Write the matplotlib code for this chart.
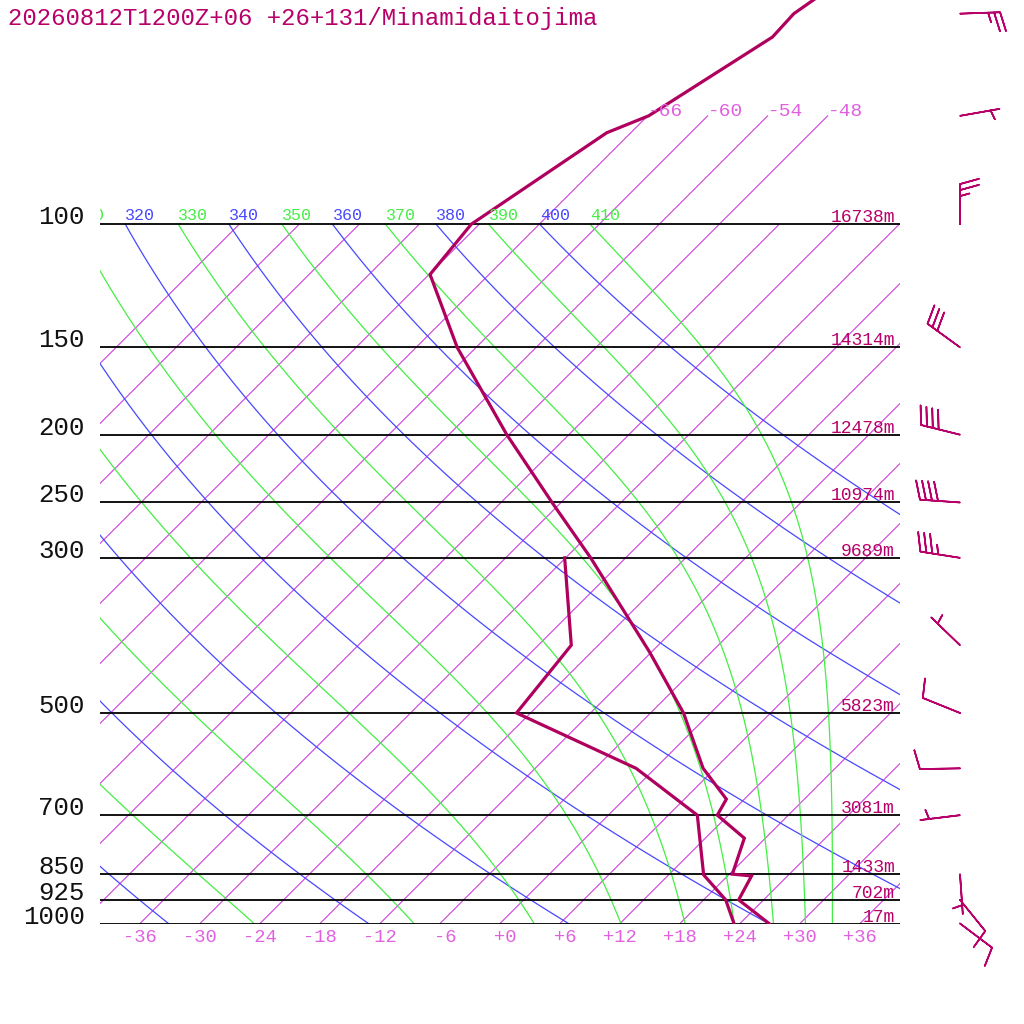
import numpy as np
import matplotlib
matplotlib.use('Agg')
import matplotlib.pyplot as plt
from matplotlib.transforms import Affine2D, blended_transform_factory

# sounding (hPa, degC)
temp_p = [1000, 925, 855, 850, 755, 700, 664, 600, 500, 409, 300, 250, 200,
          150, 118, 100, 74, 70, 54, 50, 40]
temp_t = [26.9, 21.5, 20.4, 18.3, 15.9, 10.9, 10.2, 4.8, -2.7, -12.2, -27.5,
          -36.9, -48.2, -61.9, -71.9, -72.8, -68.4, -65.9, -61.4, -61.6, -58.7]

dew_p = [1000, 925, 852, 700, 600, 500, 400, 300]
dew_t = [23.4, 20.2, 15.5, 8.9, -1.9, -19.4, -20.7, -30.1]

# winds: direction (deg, from) and speed (kt)
wind_p = [1000, 925, 850, 700, 600, 500, 400, 300, 250, 200, 150, 100, 70, 50]
wind_dir = [127, 141, 176, 263, 269, 292, 314, 279, 274, 284, 306, 0, 80, 88]
wind_kt = [10, 10, 5, 5, 10, 10, 5, 35, 40, 40, 30, 25, 5, 25]

levels = [1000, 925, 850, 700, 500, 300, 250, 200, 150, 100]
heights = ['17m', '702m', '1433m', '3081m', '5823m', '9689m', '10974m',
           '12478m', '14314m', '16738m']

temp_ticks = list(range(-36, 37, 6))
isotherms = list(range(-96, 37, 6))
top_isotherms = [-66, -60, -54, -48]
dry_thetas = list(range(240, 401, 20))
moist_thetas = list(range(250, 411, 20))
dry_labels = [320, 340, 360, 380, 400]
moist_labels = [310, 330, 350, 370, 390, 410]

title = '20260812T1200Z+06 +26+131/Minamidaitojima'

MONO = 'Liberation Mono'
PROFILE = '#b0005e'
MAG = '#b8006a'
ISO = '#d040e0'
ISO_TXT = '#e060e0'
DRY = '#4848ff'
MOIST = '#44ee44'


def moist_temp(theta_e, p):
    """Saturated temperature (degC) on the pseudo-adiabat theta_e (Bolton)."""
    lo = np.full_like(p, 150.0)
    hi = np.full_like(p, 330.0)
    for _ in range(50):
        mid = (lo + hi) / 2
        tc = mid - 273.15
        es = 6.112 * np.exp(17.67 * tc / (tc + 243.5))
        r = np.clip(622 * es / np.maximum(p - es, 1e-6), 0, 500)
        th = (mid * (1000 / p) ** (0.2854 * (1 - 0.00028 * r))
              * np.exp((3.376 / mid - 0.00254) * r * (1 + 0.00081 * r)))
        hot = th > theta_e
        hi = np.where(hot, mid, hi)
        lo = np.where(hot, lo, mid)
    return (lo + hi) / 2 - 273.15


fig = plt.figure(figsize=(10.24, 10.24), dpi=100)
ax = fig.add_axes([100 / 1024, 100.5 / 1024, 800 / 1024, 923.5 / 1024])
ax.set_yscale('log')
ax.set_ylim(1000, 47.8)
ax.set_xlim(-40, 40)
ax.axis('off')

# 45 degree skew around the 1000 hPa line
y0 = ax.bbox.y0
skew = ax.transData + Affine2D().translate(0, -y0).skew_deg(45, 0).translate(0, y0)
side = blended_transform_factory(ax.transAxes, ax.transData)

# isotherms
for t in isotherms:
    ptop = 70 if t in top_isotherms else 100
    ax.plot([t, t], [1000, ptop], color=ISO, lw=0.8, transform=skew)
for t in top_isotherms:
    ax.text(t, 70, f'{t:d}', transform=skew, ha='left', va='baseline',
            fontsize=14, family=MONO, color=ISO_TXT)
for t in temp_ticks:
    ax.annotate(f'{t:+d}', xy=(t, 1000), xycoords=skew, xytext=(17, -5),
                textcoords='offset pixels', ha='right', va='top',
                fontsize=13.5, family=MONO, color=ISO_TXT,
                annotation_clip=False)

p = np.geomspace(1000, 100, 80)

# dry adiabats
for th in dry_thetas:
    t = th * (p / 1000) ** 0.2857 - 273.15
    ax.plot(t, p, color=DRY, lw=0.9, transform=skew)
    if th in dry_labels:
        ax.annotate(str(th), xy=(t[-1], 100), xycoords=skew, xytext=(0, 4),
                    textcoords='offset pixels', ha='left', va='baseline',
                    fontsize=12, family=MONO, color=DRY, clip_on=True)

# moist adiabats
for th in moist_thetas:
    t = moist_temp(th, p)
    ax.plot(t, p, color=MOIST, lw=0.9, transform=skew)
    if th in moist_labels:
        ax.annotate(str(th), xy=(t[-1], 100), xycoords=skew, xytext=(0, 4),
                    textcoords='offset pixels', ha='left', va='baseline',
                    fontsize=12, family=MONO, color=MOIST, clip_on=True)

# isobars with pressure and height labels
for lev, h in zip(levels, heights):
    ax.axhline(lev, color='black', lw=1.3)
    ax.text(-15 / 800, lev, str(lev), transform=side, ha='right',
            va='baseline', fontsize=18.5, family=MONO, color='#111111',
            clip_on=False)
    ax.annotate(h, xy=(795 / 800, lev), xycoords=side, xytext=(0, 2),
                textcoords='offset pixels', ha='right', va='baseline',
                fontsize=13, family=MONO, color=MAG)

# temperature and dew point
ax.plot(temp_t, temp_p, color=PROFILE, lw=2.3, transform=skew,
        solid_joinstyle='miter')
ax.plot(dew_t, dew_p, color=PROFILE, lw=2.3, transform=skew,
        solid_joinstyle='miter')

# wind barbs at the right
rad = np.deg2rad(wind_dir)
u = -np.array(wind_kt) * np.sin(rad)
v = -np.array(wind_kt) * np.cos(rad)
ax.barbs(np.full(len(wind_p), 860 / 800), wind_p, u, v, transform=side,
         length=7.6, color=MAG, linewidth=1.2, clip_on=False,
         sizes=dict(spacing=0.15, height=0.47, width=0.26, emptybarb=0))

fig.text(8 / 1024, 1 - 25 / 1024, title, ha='left', va='baseline',
         fontsize=17.3, family=MONO, color=MAG)

fig.savefig('out.png', dpi=100, facecolor='white')
